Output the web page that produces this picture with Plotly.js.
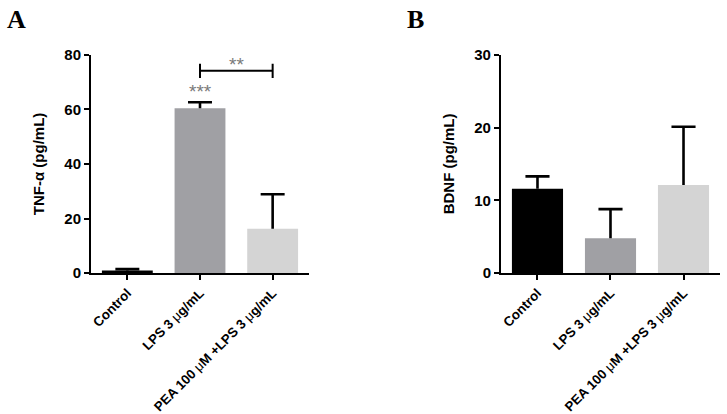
<!DOCTYPE html>
<html>
<head>
<meta charset="utf-8">
<script src="https://cdn.plot.ly/plotly-3.0.1.min.js"></script>
<style>html,body{margin:0;padding:0;background:#fff;}#chart{width:727px;height:414px;}</style>
</head>
<body>
<div id="chart"></div>
<script>
// ---- data ----
const categories = ["Control", "LPS 3 μg/mL", "PEA 100 μM +LPS 3 μg/mL"];
const tickLabels = [
  "Control",
  "LPS 3 <span style='font-weight:normal'>μ</span>g/mL",
  "PEA 100 <span style='font-weight:normal'>μ</span>M +LPS 3 <span style='font-weight:normal'>μ</span>g/mL"
];
const tnfMean = [1.0, 60.4, 16.3];
const tnfSEM  = [0.5, 2.2, 12.6];
const bdnfMean = [11.6, 4.8, 12.1];
const bdnfSEM  = [1.7, 4.0, 8.0];
const barColors = ["#000000", "#a0a0a4", "#d4d4d4"];
const tnfTicks = [0, 20, 40, 60, 80];
const bdnfTicks = [0, 10, 20, 30];
// significance
const bracketFrom = 1, bracketTo = 2, bracketY = 74.1, bracketTick = 2.6;
const bracketLabel = "**", bracketLabelY = 76.3;
const lpsLabel = "***", lpsLabelY = 66.6;

const idx = categories.map((c, i) => i);
const FAM = "Liberation Sans, Arial, sans-serif";
const CAP = 0.165; // half cap width in category units (style)

function barTrace(y, xa, ya) {
  return {
    type: "bar", x: idx, y: y, xaxis: xa, yaxis: ya,
    width: 0.7,
    marker: {color: barColors, line: {width: 0}},
    hoverinfo: "none", showlegend: false
  };
}
// upward-only SEM whiskers (GraphPad style), drawn through the axes
function semTrace(mean, sem, xa, ya) {
  const xs = [], ys = [];
  idx.forEach(i => {
    const top = mean[i] + sem[i];
    xs.push(i, i, null, i - CAP, i + CAP, null);
    ys.push(mean[i], top, null, top, top, null);
  });
  return {type: "scatter", mode: "lines", x: xs, y: ys, xaxis: xa, yaxis: ya,
          line: {color: "#000", width: 2.6}, hoverinfo: "none", showlegend: false, cliponaxis: false};
}

const traces = [
  barTrace(tnfMean, "x", "y"),
  semTrace(tnfMean, tnfSEM, "x", "y"),
  barTrace(bdnfMean, "x2", "y2"),
  semTrace(bdnfMean, bdnfSEM, "x2", "y2")
];

function xAxis(domain, anchor) {
  return {
    domain: domain, anchor: anchor, range: [-0.5, 2.5],
    tickvals: idx, ticktext: tickLabels, tickangle: -45,
    showline: true, linecolor: "#000", linewidth: 2,
    ticks: "outside", ticklen: 5, tickwidth: 2, tickcolor: "#000",
    showgrid: false, zeroline: false, automargin: false,
    tickfont: {family: FAM, size: 13.3, weight: "bold", color: "#000"}
  };
}
function yAxis(domain, anchor, range, ticks, title) {
  return {
    domain: domain, anchor: anchor, range: range, tickvals: ticks,
    showline: true, linecolor: "#000", linewidth: 2,
    ticks: "outside", ticklen: 5, tickwidth: 2, tickcolor: "#000",
    showgrid: false, zeroline: false, automargin: false,
    tickfont: {family: FAM, size: 15, weight: "bold", color: "#000"},
    title: {text: title, standoff: 16, font: {family: FAM, size: 15, weight: "bold", color: "#000"}}
  };
}

const yDom = [0.34, 0.868];
const layout = {
  width: 727, height: 414,
  margin: {l: 0, r: 0, t: 0, b: 0},
  paper_bgcolor: "#fff", plot_bgcolor: "#fff",
  xaxis: xAxis([0.1252, 0.4250], "y"),
  yaxis: yAxis(yDom, "x", [0, 80], tnfTicks, "TNF-α (pg/mL)"),
  xaxis2: xAxis([0.6891, 0.9904], "y2"),
  yaxis2: yAxis(yDom, "x2", [0, 30], bdnfTicks, "BDNF (pg/mL)"),
  shapes: [
    {type: "line", xref: "x", yref: "y", x0: bracketFrom, x1: bracketTo, y0: bracketY, y1: bracketY, line: {color: "#000", width: 2}},
    {type: "line", xref: "x", yref: "y", x0: bracketFrom, x1: bracketFrom, y0: bracketY - bracketTick, y1: bracketY + bracketTick, line: {color: "#000", width: 2}},
    {type: "line", xref: "x", yref: "y", x0: bracketTo, x1: bracketTo, y0: bracketY - bracketTick, y1: bracketY + bracketTick, line: {color: "#000", width: 2}}
  ],
  annotations: [
    {xref: "x", yref: "y", x: (bracketFrom + bracketTo) / 2, y: bracketLabelY, text: bracketLabel, showarrow: false,
     font: {family: FAM, size: 19, color: "#7a7a7a"}},
    {xref: "x", yref: "y", x: 1, y: lpsLabelY, text: lpsLabel, showarrow: false,
     font: {family: FAM, size: 19, color: "#7a7a7a"}},
    {xref: "paper", yref: "paper", x: 5 / 727, y: 1 - 3 / 414, xanchor: "left", yanchor: "top", text: "<b>A</b>", showarrow: false,
     font: {family: "Liberation Serif, Times New Roman, serif", size: 26, color: "#000"}},
    {xref: "paper", yref: "paper", x: 405 / 727, y: 1 - 3 / 414, xanchor: "left", yanchor: "top", text: "<b>B</b>", showarrow: false,
     font: {family: "Liberation Serif, Times New Roman, serif", size: 26, color: "#000"}}
  ]
};

Plotly.newPlot("chart", traces, layout, {staticPlot: true, displayModeBar: false});
</script>
</body>
</html>
